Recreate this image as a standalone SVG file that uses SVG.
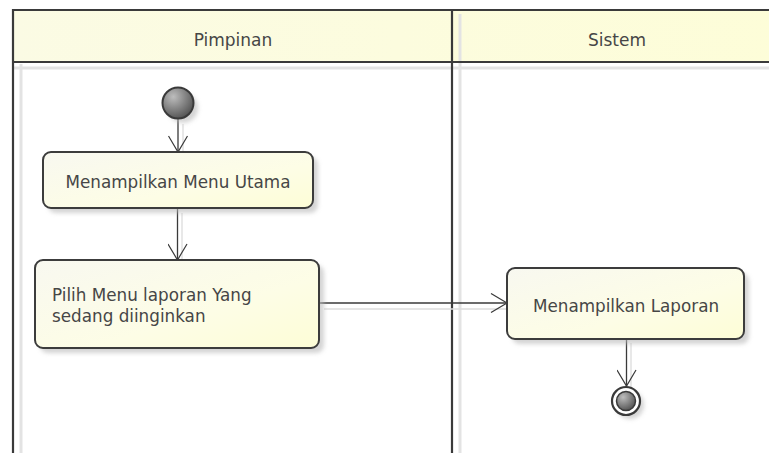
<svg xmlns="http://www.w3.org/2000/svg" width="769" height="453" viewBox="0 0 769 453">
<defs>
<linearGradient id="hdr" x1="0" y1="0" x2="1" y2="0">
<stop offset="0" stop-color="#fbfbe4"/>
<stop offset="1" stop-color="#fdfdd8"/>
</linearGradient>
<linearGradient id="act" x1="0" y1="0" x2="1" y2="1">
<stop offset="0" stop-color="#f8f8f0"/>
<stop offset="0.6" stop-color="#fdfde6"/>
<stop offset="1" stop-color="#fdfdd6"/>
</linearGradient>
<radialGradient id="ball" cx="0.35" cy="0.3" r="0.8">
<stop offset="0" stop-color="#bdbdbd"/>
<stop offset="1" stop-color="#4a4a4a"/>
</radialGradient>
<filter id="blur" x="-20%" y="-20%" width="140%" height="140%">
<feGaussianBlur stdDeviation="2"/>
</filter>
<marker id="open" viewBox="0 0 20 20" refX="18" refY="10" markerWidth="20" markerHeight="20" markerUnits="userSpaceOnUse" orient="auto">
<path d="M2,0.5 L18,10 L2,19.5" fill="none" stroke="#3a3a3a" stroke-width="1.2"/>
</marker>
</defs>
<style>
.frame{stroke:#3a3a3a;stroke-width:2.2;fill:none}
.shadowline{stroke:#e3e3e3;stroke-width:3;fill:none}
.act{fill:url(#act);stroke:#3c3c3c;stroke-width:2}
.sh{fill:#b8b8b8;opacity:0.6;filter:url(#blur)}
.lbl{font-family:"DejaVu Sans",sans-serif;font-size:16.8px;fill:#464646}
.hd{font-family:"DejaVu Sans",sans-serif;font-size:17px;fill:#464646;text-anchor:middle}
.edge{stroke:#3a3a3a;stroke-width:1.3;fill:none}
.edgesh{stroke:#dcdcdc;stroke-width:1.3;fill:none}
</style>
<rect width="769" height="453" fill="#ffffff"/>
<g id="swimlanes">
<rect x="13" y="10" width="770" height="52" fill="url(#hdr)"/>
<line class="shadowline" x1="14" y1="68" x2="769" y2="68"/>
<line class="shadowline" x1="21" y1="64" x2="21" y2="453"/>
<line class="shadowline" x1="460" y1="14" x2="460" y2="453"/>
<line class="frame" x1="13" y1="10" x2="769" y2="10"/>
<line class="frame" x1="13" y1="62" x2="769" y2="62"/>
<line class="frame" x1="13" y1="9" x2="13" y2="453"/>
<line class="frame" x1="452" y1="9" x2="452" y2="453"/>
<text class="hd" x="233" y="46">Pimpinan</text>
<text class="hd" x="617" y="46">Sistem</text>
</g>
<g id="connectors">
<line class="edgesh" x1="183" y1="124" x2="183" y2="157"/>
<line class="edgesh" x1="182" y1="213" x2="182" y2="265"/>
<line class="edgesh" x1="324" y1="309" x2="512" y2="309"/>
<line class="edgesh" x1="631" y1="343" x2="631" y2="390"/>
<line class="edge" x1="178" y1="119" x2="178" y2="152" marker-end="url(#open)"/>
<line class="edge" x1="177.5" y1="208" x2="177.5" y2="260" marker-end="url(#open)"/>
<line class="edge" x1="319" y1="303" x2="507" y2="303" marker-end="url(#open)"/>
<line class="edge" x1="626.5" y1="338" x2="626.5" y2="386" marker-end="url(#open)"/>
</g>
<g id="start">
<circle class="sh" cx="183" cy="108" r="15"/>
<circle cx="178" cy="103" r="15.5" fill="url(#ball)" stroke="#3a3a3a" stroke-width="2"/>
</g>
<g id="act1">
<rect class="sh" x="48" y="157" width="270" height="56" rx="8"/>
<rect class="act" x="43" y="152" width="270" height="56" rx="8"/>
<text class="lbl" x="178" y="188" text-anchor="middle">Menampilkan Menu Utama</text>
</g>
<g id="act2">
<rect class="sh" x="40" y="265" width="284" height="88" rx="8"/>
<rect class="act" x="35" y="260" width="284" height="88" rx="8"/>
<text class="lbl" x="52" y="301">Pilih Menu laporan Yang</text>
<text class="lbl" x="52" y="322">sedang diinginkan</text>
</g>
<g id="act3">
<rect class="sh" x="512" y="273" width="237" height="71" rx="8"/>
<rect class="act" x="507" y="268" width="237" height="71" rx="8"/>
<text class="lbl" x="626" y="312" text-anchor="middle">Menampilkan Laporan</text>
</g>
<g id="end">
<circle class="sh" cx="630" cy="405" r="14"/>
<circle cx="626" cy="401" r="14" fill="#ffffff" stroke="#3a3a3a" stroke-width="2.2"/>
<circle cx="626" cy="401" r="9.5" fill="url(#ball)" stroke="#3a3a3a" stroke-width="1.5"/>
</g>
</svg>
